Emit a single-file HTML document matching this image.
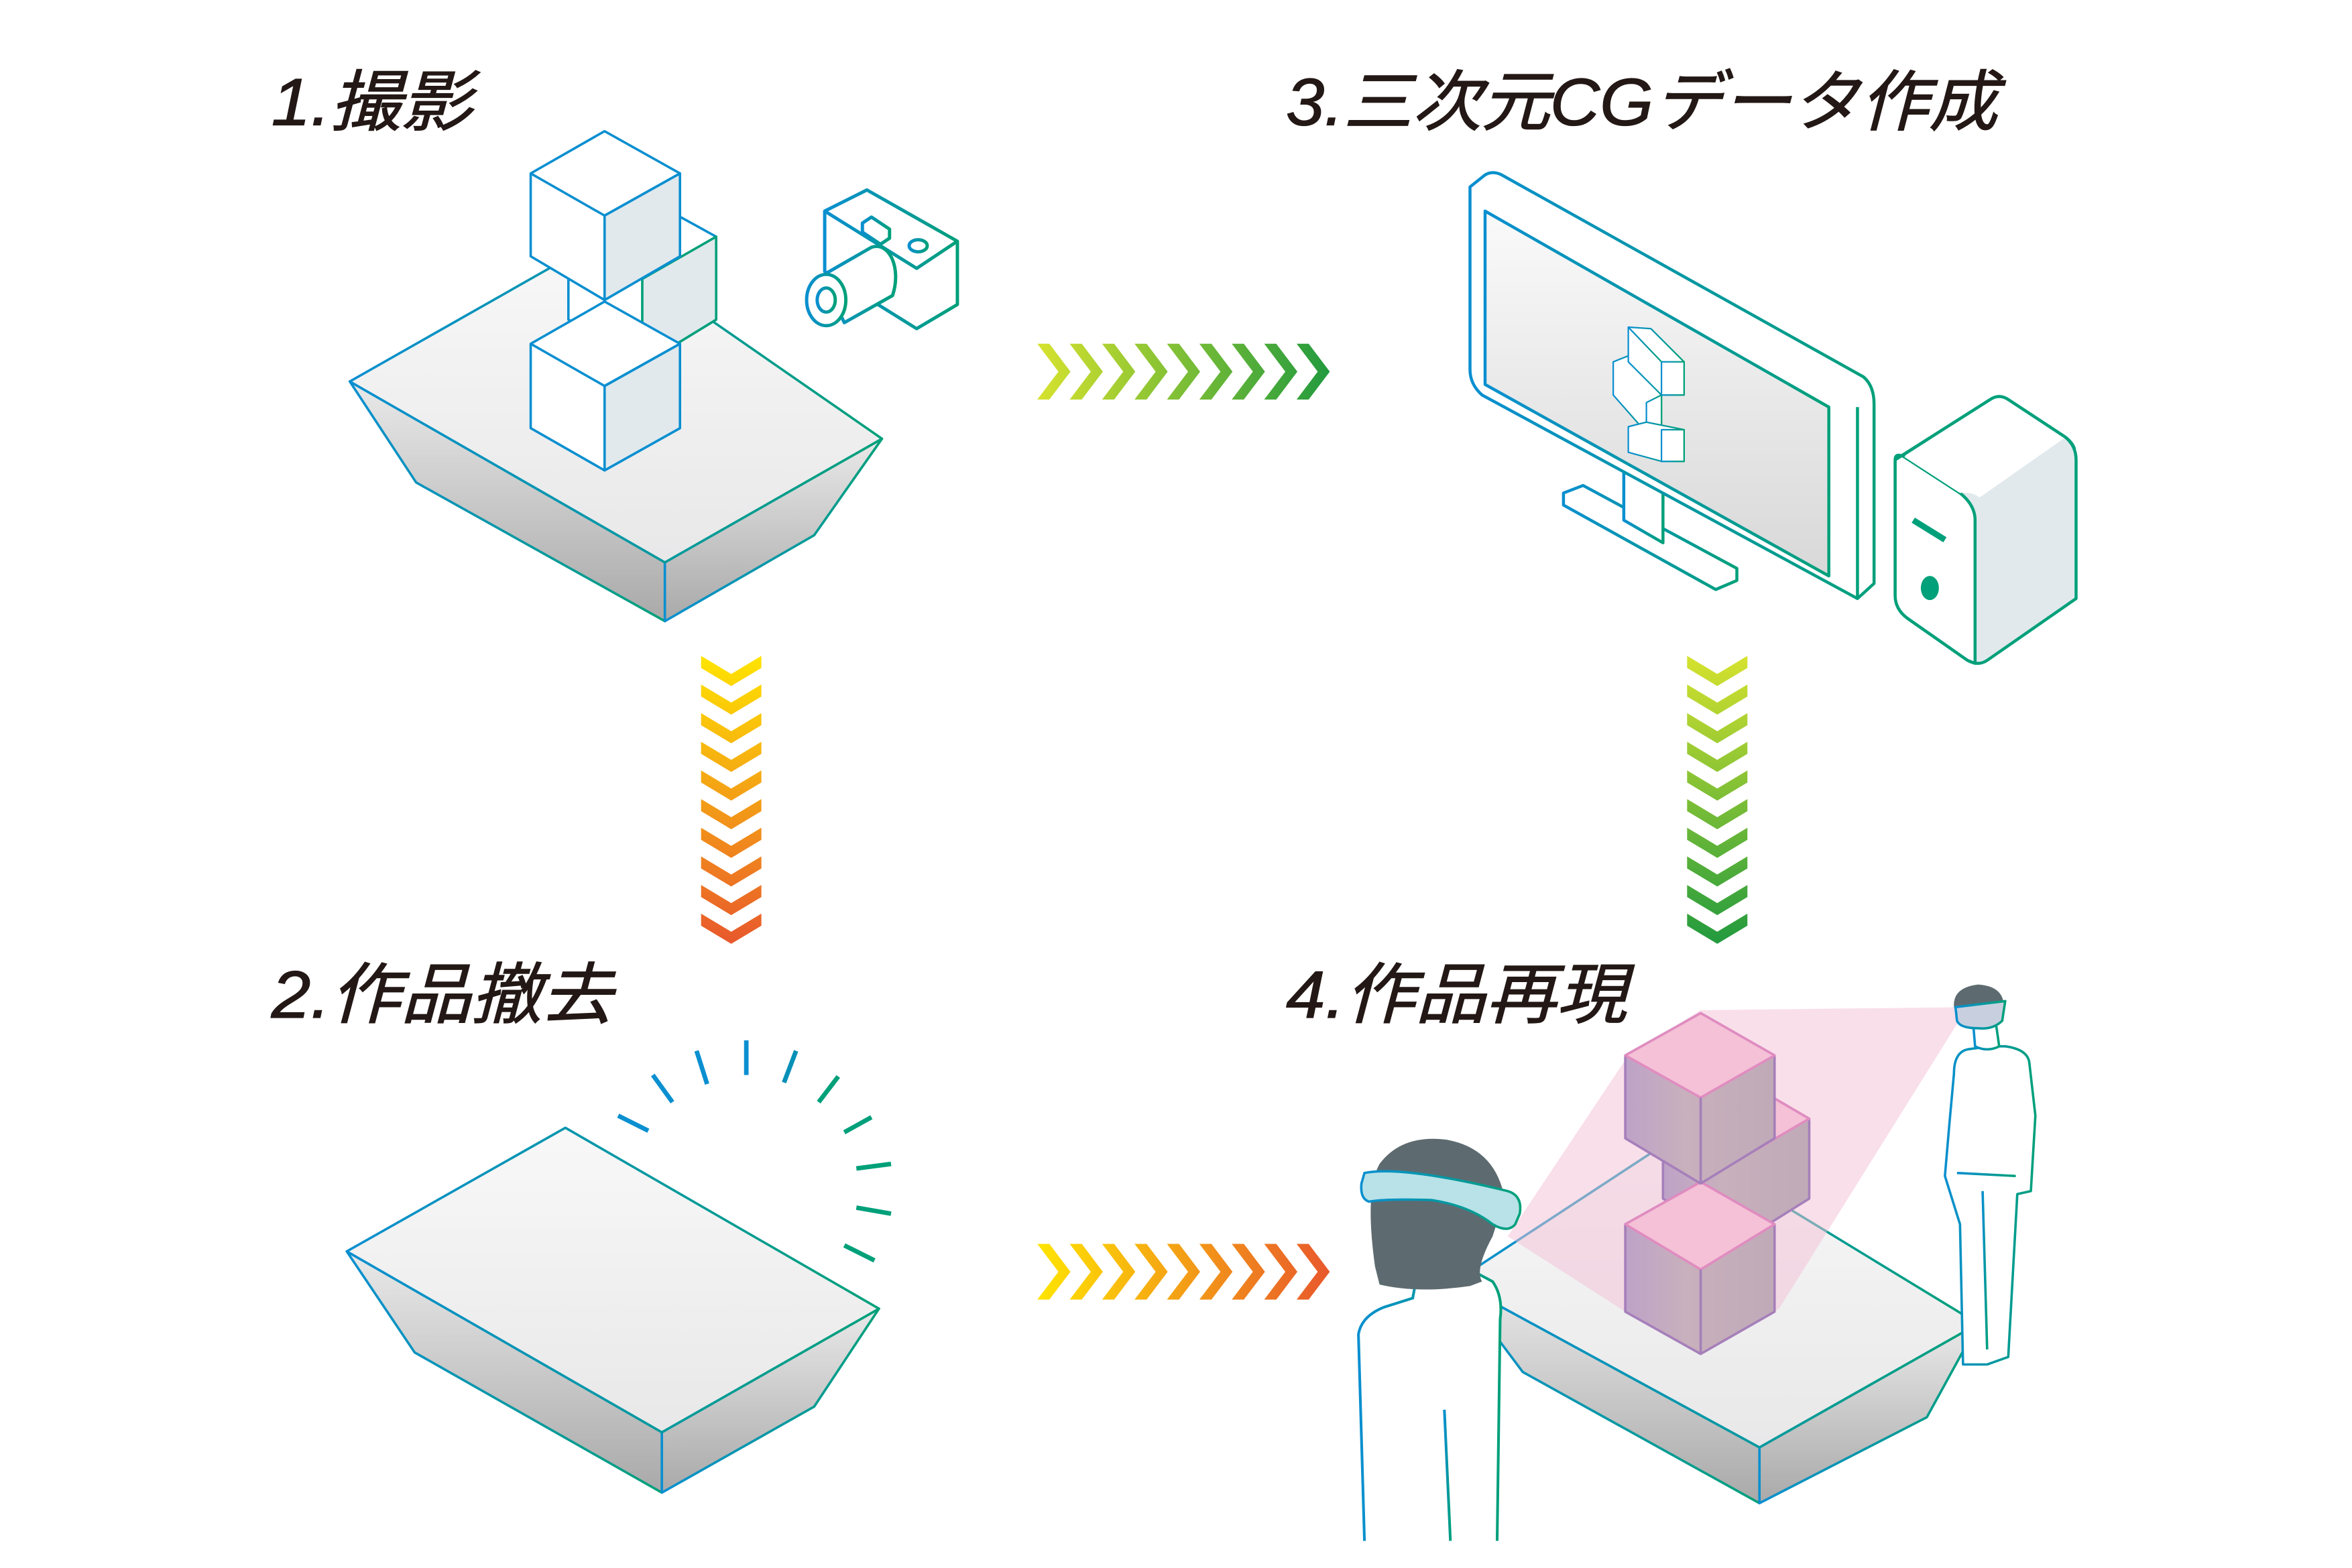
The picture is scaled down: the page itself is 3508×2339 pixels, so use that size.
<!DOCTYPE html>
<html><head><meta charset="utf-8"><style>
html,body{margin:0;padding:0;background:#fff;}
svg{display:block;}
text{font-family:"Liberation Sans","Noto Sans CJK JP",sans-serif;font-style:italic;fill:#231815;stroke:#231815;stroke-width:0.6;}
</style></head><body>
<svg width="3508" height="2339" viewBox="0 0 1560 1040" preserveAspectRatio="none" xmlns="http://www.w3.org/2000/svg">
<defs>
<linearGradient id="top" x1="0" y1="0" x2="0" y2="1"><stop offset="0" stop-color="#f8f8f8"/><stop offset="1" stop-color="#e8e8e9"/></linearGradient>
<linearGradient id="side" x1="0" y1="0" x2="0" y2="1"><stop offset="0" stop-color="#e9e9e9"/><stop offset="1" stop-color="#a9a9a9"/></linearGradient>
<linearGradient id="scr" x1="0" y1="0" x2="0" y2="1"><stop offset="0" stop-color="#fafafa"/><stop offset="1" stop-color="#d8d8d8"/></linearGradient>
<linearGradient id="ln" x1="0" y1="0" x2="1" y2="0"><stop offset="0" stop-color="#0a8fd0"/><stop offset="1" stop-color="#00a07a"/></linearGradient>
<linearGradient id="h1" x1="0" y1="0" x2="1" y2="0"><stop offset="0" stop-color="#d6e22e"/><stop offset="1" stop-color="#229a3e"/></linearGradient>
<linearGradient id="h2" x1="0" y1="0" x2="1" y2="0"><stop offset="0" stop-color="#ffe400"/><stop offset="1" stop-color="#e8582c"/></linearGradient>
<linearGradient id="v1" x1="0" y1="0" x2="0" y2="1"><stop offset="0" stop-color="#ffe400"/><stop offset="1" stop-color="#e8582c"/></linearGradient>
<linearGradient id="v2" x1="0" y1="0" x2="0" y2="1"><stop offset="0" stop-color="#d6e22e"/><stop offset="1" stop-color="#229a3e"/></linearGradient>
<linearGradient id="pk" x1="0" y1="0" x2="1" y2="0"><stop offset="0" stop-color="#bea2c8"/><stop offset="0.4" stop-color="#c8b0bc"/><stop offset="1" stop-color="#c0aab8"/></linearGradient>
</defs>

<text x="180" y="83" font-size="44" textLength="133" lengthAdjust="spacingAndGlyphs">1.撮影</text>
<text x="853" y="83" font-size="44" textLength="472" lengthAdjust="spacingAndGlyphs">3.三次元CGデータ作成</text>
<text x="180" y="675" font-size="44" textLength="226" lengthAdjust="spacingAndGlyphs">2.作品撤去</text>
<text x="853" y="675" font-size="44" textLength="226" lengthAdjust="spacingAndGlyphs">4.作品再現</text>

<!-- Panel 1 pedestal -->
<g stroke="url(#ln)" stroke-width="1.6" stroke-linejoin="round">
<polygon points="232,253 276,320 441,412 441,373" fill="url(#side)"/>
<polygon points="441,373 585,291 540,355 441,412" fill="url(#side)"/>
<polygon points="232,253 396,160 585,291 441,373" fill="url(#top)"/>
</g>
<g stroke="#0a8fd0" stroke-width="1.6" stroke-linejoin="round">
<polygon points="377,157 426,130 475,157 475,212 426,242 377,212" fill="#fff"/>
<polygon points="426,185 475,157 475,212 426,242" fill="#e1e9ed" stroke="#00a07a"/>
<polygon points="352,228 401,200 451,228 451,284 401,312 352,284" fill="#fff"/>
<polygon points="401,256 451,228 451,284 401,312" fill="#e1e9ed"/>
<polyline points="352,228 401,256 451,228" fill="none"/>
<polygon points="352,115 401,87 451,115 451,170 401,199 352,170" fill="#fff"/>
<polygon points="401,143 451,115 451,170 401,199" fill="#e1e9ed"/>
<polyline points="352,115 401,143 451,115" fill="none"/>
</g>
<!-- camera -->
<g stroke="url(#ln)" stroke-width="2.2" fill="#fff" stroke-linejoin="round">
<polygon points="547,140 575,126 635,160 635,202 608,218 547,180"/>
<polyline points="547,140 608,178 635,160" fill="none"/>
<line x1="608" y1="178" x2="608" y2="218"/>
<polygon points="572,148 578,144 590,152 590,158 584,162 572,154"/>
<ellipse cx="609" cy="163" rx="6" ry="4"/>
<path d="M545,183 L578,164 C590,160 598,178 592,196 L560,214 Z"/>
<ellipse cx="548" cy="199" rx="13" ry="17"/>
<ellipse cx="548" cy="199" rx="6" ry="8"/>
</g>

<!-- chevrons -->
<g fill="url(#h1)">
<path d="M688,228h8l14,18.5l-14,18.5h-8l14,-18.5z M709.5,228h8l14,18.5l-14,18.5h-8l14,-18.5z M731,228h8l14,18.5l-14,18.5h-8l14,-18.5z M752.5,228h8l14,18.5l-14,18.5h-8l14,-18.5z M774,228h8l14,18.5l-14,18.5h-8l14,-18.5z M795.5,228h8l14,18.5l-14,18.5h-8l14,-18.5z M817,228h8l14,18.5l-14,18.5h-8l14,-18.5z M838.5,228h8l14,18.5l-14,18.5h-8l14,-18.5z M860,228h8l14,18.5l-14,18.5h-8l14,-18.5z"/>
</g>
<g fill="url(#h2)">
<path d="M688,825h8l14,18.5l-14,18.5h-8l14,-18.5z M709.5,825h8l14,18.5l-14,18.5h-8l14,-18.5z M731,825h8l14,18.5l-14,18.5h-8l14,-18.5z M752.5,825h8l14,18.5l-14,18.5h-8l14,-18.5z M774,825h8l14,18.5l-14,18.5h-8l14,-18.5z M795.5,825h8l14,18.5l-14,18.5h-8l14,-18.5z M817,825h8l14,18.5l-14,18.5h-8l14,-18.5z M838.5,825h8l14,18.5l-14,18.5h-8l14,-18.5z M860,825h8l14,18.5l-14,18.5h-8l14,-18.5z"/>
</g>
<g fill="url(#v1)">
<path d="M465,435l20,12l20,-12v8l-20,12l-20,-12z M465,454l20,12l20,-12v8l-20,12l-20,-12z M465,473l20,12l20,-12v8l-20,12l-20,-12z M465,492l20,12l20,-12v8l-20,12l-20,-12z M465,511l20,12l20,-12v8l-20,12l-20,-12z M465,530l20,12l20,-12v8l-20,12l-20,-12z M465,549l20,12l20,-12v8l-20,12l-20,-12z M465,568l20,12l20,-12v8l-20,12l-20,-12z M465,587l20,12l20,-12v8l-20,12l-20,-12z M465,606l20,12l20,-12v8l-20,12l-20,-12z"/>
</g>
<g fill="url(#v2)">
<path d="M1119,435l20,12l20,-12v8l-20,12l-20,-12z M1119,454l20,12l20,-12v8l-20,12l-20,-12z M1119,473l20,12l20,-12v8l-20,12l-20,-12z M1119,492l20,12l20,-12v8l-20,12l-20,-12z M1119,511l20,12l20,-12v8l-20,12l-20,-12z M1119,530l20,12l20,-12v8l-20,12l-20,-12z M1119,549l20,12l20,-12v8l-20,12l-20,-12z M1119,568l20,12l20,-12v8l-20,12l-20,-12z M1119,587l20,12l20,-12v8l-20,12l-20,-12z M1119,606l20,12l20,-12v8l-20,12l-20,-12z"/>
</g>

<!-- monitor -->
<g stroke="url(#ln)" stroke-width="2" stroke-linejoin="round" fill="#fff">
<polygon points="1037,327 1050,322 1152,377 1152,385 1138,391 1037,335"/>
<polygon points="1077,307 1103,322 1103,360 1077,345"/>
<path d="M975,124 L985,116 Q990,113 996,116 L1236,250 Q1243,256 1243,268 L1243,387 L1232,397 L983,262 Q975,255 975,245 Z"/>
<polygon points="985,140 1213,270 1213,382 985,255" fill="url(#scr)"/>
<line x1="1232" y1="397" x2="1232" y2="270" stroke="#00a07a"/>
</g>
<!-- small cubes on screen -->
<g stroke="url(#ln)" stroke-width="1" fill="#fff" stroke-linejoin="round">
<polygon points="1070,240 1080,236 1102,262 1102,283 1092,287 1070,262"/>
<polygon points="1092,267 1102,262 1102,283 1092,287" />
<polygon points="1080,283 1092,280 1117,285 1117,306 1102,306 1080,300"/>
<polygon points="1102,285 1117,285 1117,306 1102,306"/>
<polygon points="1080,217 1095,218 1117,240 1117,262 1102,262 1080,240"/>
<polygon points="1102,240 1117,240 1117,262 1102,262"/>
<line x1="1080" y1="217" x2="1102" y2="240"/>
</g>
<!-- tower -->
<g stroke="#00a07a" stroke-width="2" stroke-linejoin="round">
<path d="M1257,305 L1320,265 Q1326,261 1332,265 L1370,290 Q1377,296 1377,305 L1377,397 L1318,438 Q1312,442 1305,438 L1265,410 Q1257,404 1257,395 Z" fill="#e1e9ed"/>
<path d="M1257,305 Q1257,300 1263,303 L1300,327 Q1310,335 1310,345 L1310,440 L1305,438 L1265,410 Q1257,404 1257,395 Z" fill="#fff"/>
<path d="M1263,303 L1320,265 Q1326,261 1332,265 L1370,290 L1313,330 Q1308,326 1300,327 Z" fill="#fff" stroke="none"/>
<path d="M1257,305 L1320,265 Q1326,261 1332,265 L1370,290 Q1375,294 1376,298" fill="none"/>
<line x1="1269" y1="345" x2="1290" y2="358" stroke-width="4"/>
<ellipse cx="1280" cy="390" rx="6" ry="8" fill="#00a07a" stroke="none"/>
</g>

<!-- Panel 2 -->
<g stroke="url(#ln)" stroke-width="1.6" stroke-linejoin="round">
<polygon points="230,830 275,897 439,990 439,950" fill="url(#side)"/>
<polygon points="439,950 583,868 540,933 439,990" fill="url(#side)"/>
<polygon points="230,830 375,748 583,868 439,950" fill="url(#top)"/>
</g>
<g stroke-width="3">
<line x1="410" y1="740" x2="430" y2="750" stroke="#0a8fd0"/>
<line x1="433" y1="713" x2="446" y2="731" stroke="#0a8fd0"/>
<line x1="462" y1="697" x2="469" y2="719" stroke="#0a8fd0"/>
<line x1="495" y1="690" x2="495" y2="713" stroke="#0a8fd0"/>
<line x1="528" y1="697" x2="520" y2="718" stroke="#0690b8"/>
<line x1="556" y1="714" x2="543" y2="731" stroke="#00a07a"/>
<line x1="578" y1="741" x2="560" y2="751" stroke="#00a07a"/>
<line x1="591" y1="772" x2="568" y2="775" stroke="#00a07a"/>
<line x1="591" y1="805" x2="568" y2="801" stroke="#00a07a"/>
<line x1="580" y1="836" x2="560" y2="826" stroke="#00a07a"/>
</g>

<!-- Panel 4 pedestal -->
<g stroke="url(#ln)" stroke-width="1.6" stroke-linejoin="round">
<polygon points="965,850 1010,910 1167,997 1167,960" fill="url(#side)"/>
<polygon points="1167,960 1312,878 1278,940 1167,997" fill="url(#side)"/>
<polygon points="965,850 1110,755 1312,878 1167,960" fill="url(#top)"/>
</g>
<polygon points="1000,820 1080,700 1128,670 1305,668 1180,868 1128,898 1078,870" fill="#f4bfd6" opacity="0.5"/>
<g stroke="#a57fba" stroke-width="1.6" stroke-linejoin="round">
<polygon points="1103,742 1152,714 1200,742 1200,795 1152,825 1103,795" fill="url(#pk)"/>
<polygon points="1152,770 1200,742 1152,714 1103,742" fill="#f4c1d6" stroke="#e08cc0"/>
<polygon points="1078,812 1128,784 1177,812 1177,870 1128,898 1078,870" fill="url(#pk)"/>
<polygon points="1078,812 1128,784 1177,812 1128,842" fill="#f4c1d6" stroke="#e08cc0"/>
<line x1="1128" y1="842" x2="1128" y2="898"/>
<polygon points="1078,700 1128,672 1177,700 1177,755 1128,785 1078,755" fill="url(#pk)"/>
<polygon points="1078,700 1128,672 1177,700 1128,728" fill="#f4c1d6" stroke="#e08cc0"/>
<line x1="1128" y1="728" x2="1128" y2="785"/>
</g>
<!-- left person -->
<g stroke="url(#ln)" stroke-width="1.8" fill="#fff">
<path d="M905,1022 L901,885 Q903,873 918,867 L937,861 L940,845 L975,842 L990,850 Q997,860 995,875 L993,1022"/>
<line x1="958" y1="935" x2="962" y2="1022"/>
</g>
<path d="M912,840 Q905,790 915,772 Q930,752 960,756 Q992,762 998,795 L990,820 Q978,842 983,850 L975,853 Q940,858 915,852 Z" fill="#5d6b70"/>
<path d="M905,778 Q930,773 1000,790 Q1010,793 1008,805 L1005,812 Q1000,818 990,812 Q975,800 950,796 Q920,795 908,797 Q902,795 903,785 Z" fill="#b8e2e8" stroke="url(#ln)" stroke-width="1.6"/>
<!-- right person -->
<g stroke="url(#ln)" stroke-width="1.6" fill="#fff" stroke-linejoin="round">
<path d="M1296,712 Q1296,698 1305,696 L1320,694 L1330,694 Q1345,696 1346,705 L1350,740 L1347,790 L1338,792 L1332,900 L1318,905 L1302,905 L1300,812 L1290,780 L1293,745 Z"/>
<line x1="1298" y1="778" x2="1337" y2="780"/>
<line x1="1315" y1="790" x2="1318" y2="895"/>
<path d="M1309,682 L1310,694 Q1318,698 1326,694 L1324,680"/>
<path d="M1296,668 Q1295,655 1312,653 Q1328,654 1329,666 L1327,672 L1298,672 Z" fill="#5d6b70" stroke="none"/>
<path d="M1297,668 L1330,664 L1328,677 Q1322,683 1312,682 Q1300,682 1298,677 Z" fill="#c8d0e0"/>
</g>
</svg>
</body></html>
